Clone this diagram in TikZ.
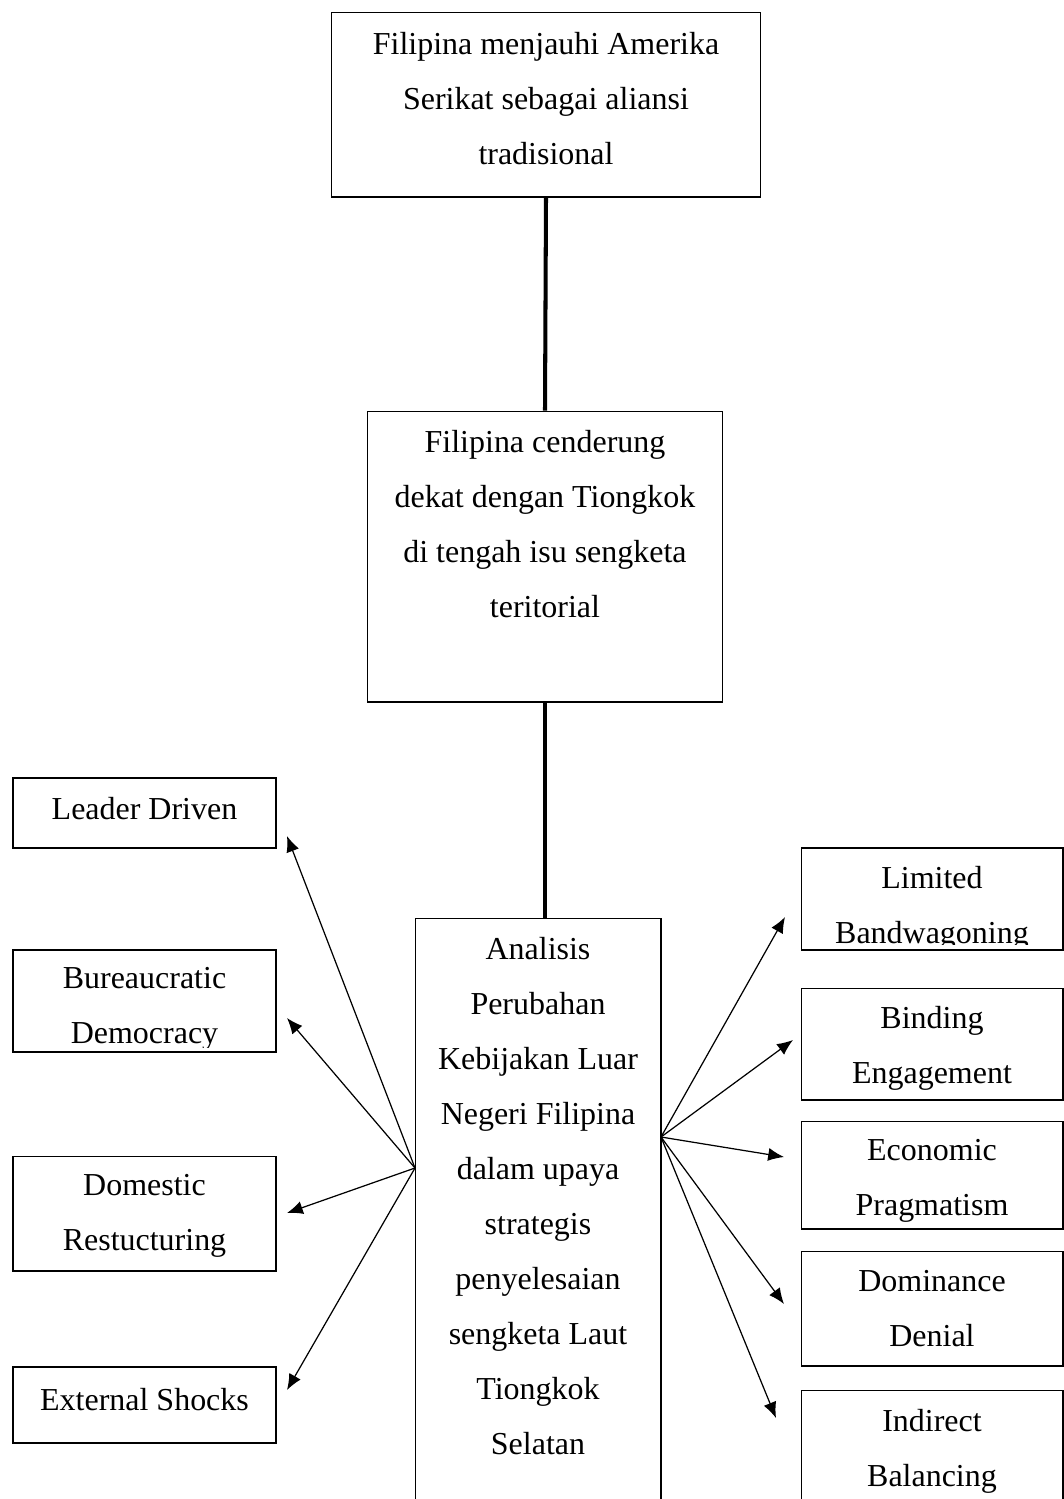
\documentclass[tikz,border=0pt]{standalone}
\usepackage{fontspec}
\setmainfont{Liberation Serif}
\usetikzlibrary{arrows.meta}

\tikzset{
  box/.style={draw, line width=0.6pt, inner sep=0pt},
  txt/.style={align=center, inner sep=0pt, font=\fontsize{18.2}{31.3}\selectfont},
  link/.style={line width=2.3pt},
  pointer/.style={line width=0.7pt, -{Latex[length=9pt,width=7.5pt]}}
}

\begin{document}
\begin{tikzpicture}[x=0.02cm,y=-0.02cm]
\useasboundingbox (0,0) rectangle (1064,1499);
\clip (0,0) rectangle (1064,1499);

% main chain
\node[box, minimum width=8.6cm, minimum height=3.7cm] (top) at (546,104.5) {};
\node[txt] (toptext) at (546,98.5) {Filipina menjauhi Amerika\\Serikat sebagai aliansi\\tradisional};

\node[box, minimum width=7.12cm, minimum height=5.82cm] (mid) at (545,556.5) {};
\node[txt] (midtext) at (545,524) {Filipina cenderung\\dekat dengan Tiongkok\\di tengah isu sengketa\\teritorial};

\node[box, minimum width=4.92cm, minimum height=11.84cm] (ana) at (538,1214) {};
\node[txt] (anatext) at (538,1196.5) {Analisis\\Perubahan\\Kebijakan Luar\\Negeri Filipina\\dalam upaya\\strategis\\penyelesaian\\sengketa Laut\\Tiongkok\\Selatan};

\draw[link] (top.south) -- (mid.north);
\draw[link] (mid.south) -- (mid.south |- ana.north);

% left side
\node[box, minimum width=5.26cm, minimum height=1.4cm] (lead) at (144.5,813) {};
\node[txt] (leadtext) at (144.5,809) {Leader Driven};

\node[box, minimum width=5.26cm, minimum height=2.04cm] (bur) at (144.5,1001) {};
\begin{scope}
\clip ([yshift=0.1cm]bur.south west) rectangle (bur.north east);
\node[txt] (burtext) at (144.5,1009) {Bureaucratic\\Democracy};
\end{scope}

\node[box, minimum width=5.26cm, minimum height=2.3cm] (dom) at (144.5,1213.5) {};
\node[txt] (domtext) at (144.5,1216) {Domestic\\Restucturing};

\node[box, minimum width=5.26cm, minimum height=1.52cm] (ext) at (144.5,1405) {};
\node[txt] (exttext) at (144.5,1400) {External Shocks};

% right side
\node[box, minimum width=5.24cm, minimum height=2.04cm] (lim) at (932,899) {};
\begin{scope}
\clip ([yshift=0.12cm]lim.south west) rectangle (lim.north east);
\node[txt] (limtext) at (932,908) {Limited\\Bandwagoning};
\end{scope}

\node[box, minimum width=5.24cm, minimum height=2.24cm] (bind) at (932,1044) {};
\node[txt] (bindtext) at (932,1048) {Binding\\Engagement};

\node[box, minimum width=5.24cm, minimum height=2.16cm] (eco) at (932,1175) {};
\begin{scope}
\clip ([yshift=0.06cm]eco.south west) rectangle (eco.north east);
\node[txt] (ecotext) at (932,1181) {Economic\\Pragmatism};
\end{scope}

\node[box, minimum width=5.24cm, minimum height=2.3cm] (domi) at (932,1308.5) {};
\node[txt] (domitext) at (932,1308.5) {Dominance\\Denial};

\node[box, minimum width=5.24cm, minimum height=2.4cm] (ind) at (932,1450) {};
\node[txt] (indtext) at (932,1451) {Indirect\\Balancing};

% arrows
\coordinate (srcL) at (415,1168);
\coordinate (srcR) at (661,1137);
\coordinate (tipLead) at (287,836);
\coordinate (tipBur) at (287,1018);
\coordinate (tipDom) at (287,1213);
\coordinate (tipExt) at (287,1390);
\coordinate (tipLim) at (785,917);
\coordinate (tipBind) at (793,1040);
\coordinate (tipEco) at (784,1157);
\coordinate (tipDomi) at (784,1304);
\coordinate (tipInd) at (776,1418);

\foreach \t in {tipLead,tipBur,tipDom,tipExt}
  \draw[pointer] (srcL) -- (\t);
\foreach \t in {tipLim,tipBind,tipEco,tipDomi,tipInd}
  \draw[pointer] (srcR) -- (\t);
\end{tikzpicture}
\end{document}
